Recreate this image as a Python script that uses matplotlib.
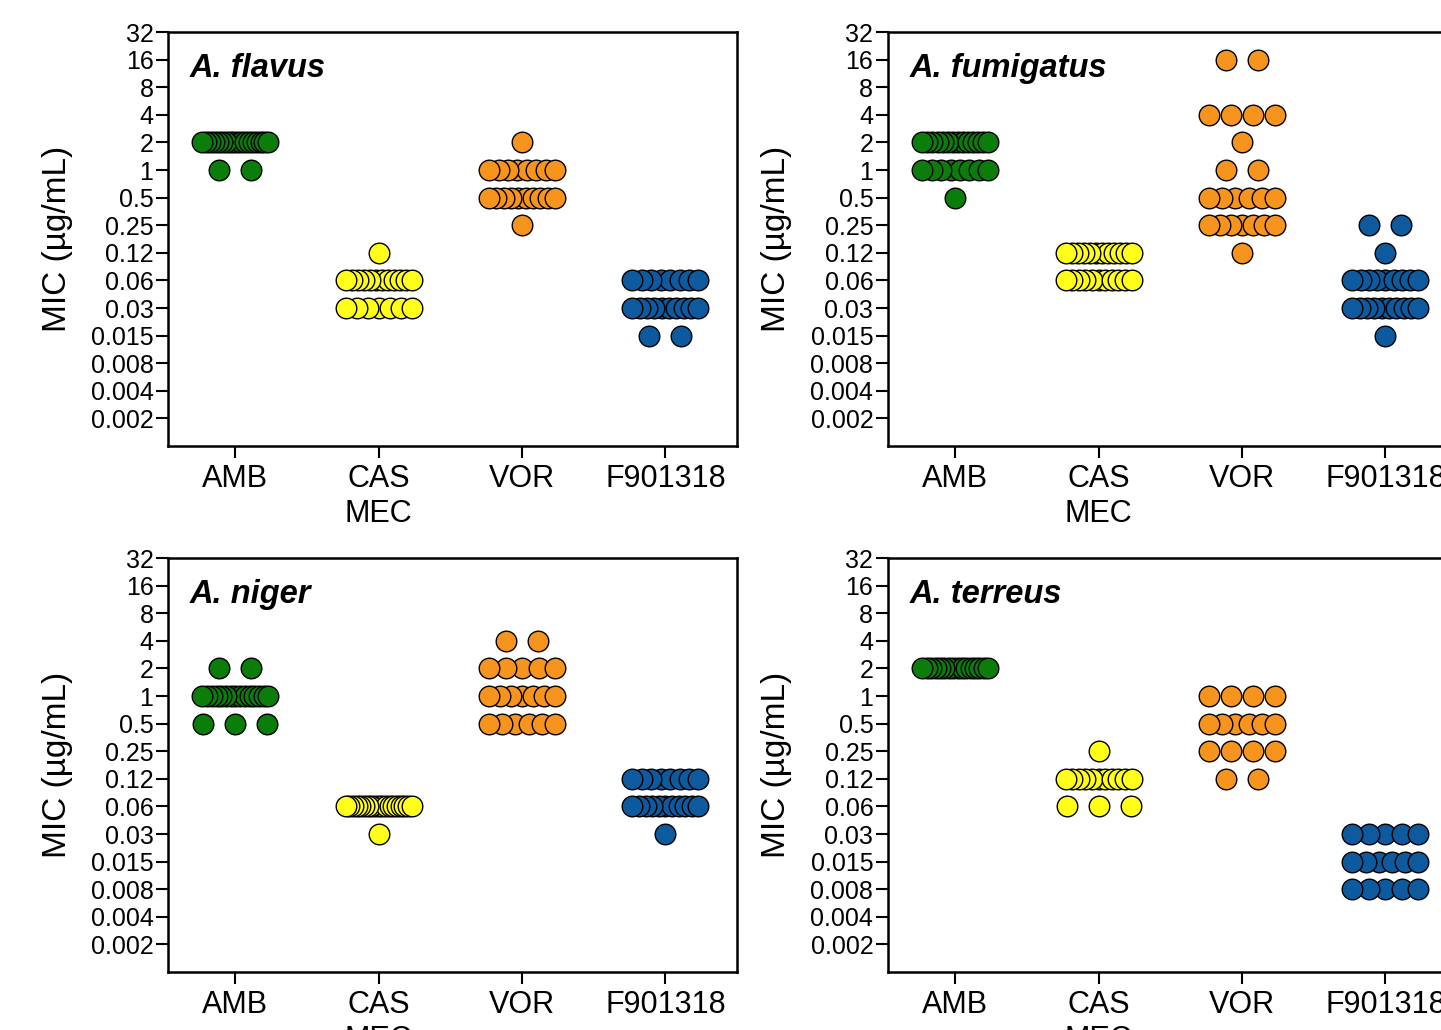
import numpy as np
import matplotlib.pyplot as plt

plt.rcParams['font.family'] = ['Liberation Sans', 'DejaVu Sans']

drugs = ['AMB', 'CAS', 'VOR', 'F901318']
drug_labels = ['AMB', 'CAS\nMEC', 'VOR', 'F901318']
drug_colors = ['#0b7d0b', '#ffff1a', '#f7941d', '#0d5a9e']
species = ['A. flavus', 'A. fumigatus', 'A. niger', 'A. terreus']

tick_values = [32, 16, 8, 4, 2, 1, 0.5, 0.25, 0.125, 0.0625, 0.03125,
               0.015625, 0.0078125, 0.00390625, 0.001953125]
tick_labels = ['32', '16', '8', '4', '2', '1', '0.5', '0.25', '0.12', '0.06',
               '0.03', '0.015', '0.008', '0.004', '0.002']

# MIC (ug/mL) -> number of isolates, one dict per drug (AMB, CAS, VOR, F901318)
flavus = [
    {2: 18, 1: 2},
    {0.125: 1, 0.0625: 12, 0.03125: 7},
    {2: 1, 1: 8, 0.5: 10, 0.25: 1},
    {0.0625: 8, 0.03125: 10, 0.015625: 2},
]
fumigatus = [
    {2: 14, 1: 8, 0.5: 1},
    {0.125: 12, 0.0625: 11},
    {16: 2, 4: 4, 2: 1, 1: 2, 0.5: 6, 0.25: 7, 0.125: 1},
    {0.25: 2, 0.125: 1, 0.0625: 9, 0.03125: 10, 0.015625: 1},
]
niger = [
    {2: 2, 1: 15, 0.5: 3},
    {0.0625: 19, 0.03125: 1},
    {4: 2, 2: 5, 1: 7, 0.5: 6},
    {0.125: 8, 0.0625: 11, 0.03125: 1},
]
terreus = [
    {2: 16},
    {0.25: 1, 0.125: 11, 0.0625: 3},
    {1: 4, 0.5: 6, 0.25: 4, 0.125: 2},
    {0.03125: 5, 0.015625: 6, 0.0078125: 5},
]
all_data = [flavus, fumigatus, niger, terreus]

# axes placement (figure fraction); right column runs past the figure edge
axes_pos = [(0.1166, 0.567), (0.6162, 0.567), (0.1166, 0.0563), (0.6162, 0.0563)]
ax_w, ax_h = 0.3949, 0.4019

dot = 0.1535            # marker diameter in x data units
max_step = 1.45 * dot
max_span = 0.46


def spread(n):
    # horizontal offsets for n points sharing one value
    if n == 1:
        return np.array([0.0])
    step = min(max_step, max_span / (n - 1))
    return (np.arange(n) - (n - 1) / 2) * step


fig = plt.figure(figsize=(14.41, 10.30), dpi=100)

for k, (sp, data) in enumerate(zip(species, all_data)):
    x0, y0 = axes_pos[k]
    ax = fig.add_axes([x0, y0, ax_w, ax_h])
    for i, counts in enumerate(data):
        xs, ys = [], []
        for mic, n in counts.items():
            off = spread(n)
            xs.extend(i + 1 + off)
            ys.extend([np.log2(mic)] * n)
        xs = np.array(xs)
        ys = np.array(ys)
        # outer points on top, like the Prism dot plots
        order = np.argsort(np.abs(xs - (i + 1)), kind='stable')
        ax.scatter(xs[order], ys[order], s=220, c=drug_colors[i],
                   edgecolors='black', linewidths=1.0, zorder=3, clip_on=False)

    ax.set_xlim(0.53, 4.5)
    ax.set_ylim(-10, 5)
    ax.set_yticks(np.log2(tick_values))
    ax.set_yticklabels(tick_labels, fontsize=18)
    ax.set_xticks(range(1, 5))
    ax.set_xticklabels(drug_labels, fontsize=22, linespacing=1.2)
    ax.tick_params(axis='y', length=9, width=1.5, pad=1.5)
    ax.tick_params(axis='x', length=8.5, width=1.5, pad=4.5)
    for s in ax.spines.values():
        s.set_linewidth(1.8)
    ax.set_ylabel('MIC (\u00b5g/mL)', fontsize=24, labelpad=13)
    ax.text(0.038, 0.912, sp, transform=ax.transAxes, fontsize=23.5,
            fontweight='bold', fontstyle='italic', va='center')

fig.savefig('out.png', dpi=100)
